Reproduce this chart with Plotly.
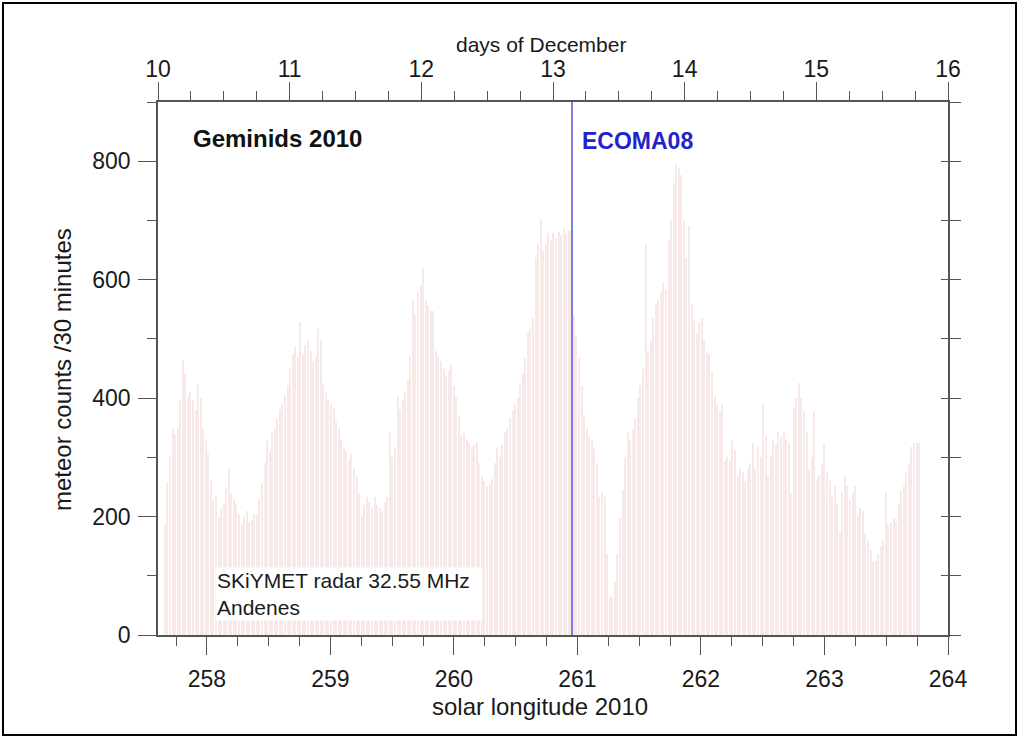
import plotly.graph_objects as go
import numpy as np

# ---- data: meteor counts per 30-minute bin ----
BIN_START = 257.66      # solar longitude of the first 30-min bin
BIN_STEP = 0.0207       # solar longitude width of one 30-min bin
counts = [
    185, 257, 300, 348, 340, 350, 396, 465, 440, 402,
    410, 396, 380, 423, 400, 348, 330, 305, 260, 227,
    235, 197, 215, 221, 250, 281, 239, 230, 221, 205,
    185, 200, 210, 191, 195, 205, 203, 230, 257, 290,
    330, 310, 341, 350, 366, 380, 390, 405, 420, 450,
    474, 486, 470, 529, 474, 490, 498, 480, 462, 470,
    517, 498, 426, 410, 396, 390, 384, 360, 348, 330,
    318, 310, 295, 305, 281, 269, 240, 203, 220, 233,
    225, 215, 233, 220, 215, 210, 225, 233, 342, 300,
    318, 402, 380, 396, 410, 432, 470, 565, 540, 577,
    590, 619, 565, 555, 547, 547, 480, 470, 462, 450,
    438, 445, 456, 420, 402, 370, 336, 340, 330, 325,
    318, 320, 324, 290, 269, 260, 251, 255, 263, 290,
    318, 300, 320, 342, 350, 366, 380, 390, 400, 426,
    440, 468, 510, 520, 535, 637, 660, 703, 649, 660,
    679, 667, 679, 670, 680, 675, 685, 679, 682, 682,
    540, 505, 468, 420, 372, 350, 336, 330, 318, 290,
    233, 240, 233, 137, 64, 64, 90, 137, 197, 245,
    300, 342, 330, 348, 366, 400, 420, 450, 661, 480,
    498, 535, 559, 565, 580, 595, 583, 667, 700, 764,
    794, 788, 776, 700, 637, 691, 559, 530, 510, 529,
    535, 498, 480, 474, 444, 402, 390, 378, 390, 293,
    300, 293, 330, 312, 269, 280, 275, 260, 281, 290,
    324, 281, 318, 300, 390, 336, 269, 300, 330, 320,
    342, 335, 342, 330, 324, 239, 384, 400, 426, 400,
    378, 342, 281, 300, 378, 263, 270, 287, 324, 275,
    260, 233, 251, 220, 173, 240, 269, 251, 227, 240,
    251, 203, 215, 209, 173, 160, 143, 125, 125, 137,
    150, 161, 239, 185, 190, 197, 191, 220, 245, 251,
    275, 290, 318, 324, 324, 324,
]
solar_longitude = BIN_START + BIN_STEP * np.arange(len(counts))

ECOMA08_LONGITUDE = 260.956
x_range = [257.604, 264.0]
day_range = [10, 16]
y_range = [0, 900]
y_ticks = [0, 200, 400, 600, 800]

# ---- layout geometry ----
W, H = 1020, 739
ML, MR, MT, MB = 158, 72, 102, 104
pw, ph = W - ML - MR, H - MT - MB

def px(xp):
    return (xp - ML) / pw

def py(yp):
    return (H - MB - yp) / ph

FONT = "Liberation Sans, Arial, sans-serif"
AX = "#555555"
TXT = "#1a1a1a"

fig = go.Figure()
fig.add_trace(go.Bar(
    x=solar_longitude, y=counts, width=BIN_STEP * 0.45,
    marker=dict(color="#f8e9e9", line=dict(width=0)),
    showlegend=False, hoverinfo="x+y",
))

common = dict(showgrid=False, zeroline=False, showline=True, linecolor=AX,
              linewidth=1.5, tickcolor=AX, tickwidth=1.2,
              tickfont=dict(family=FONT, size=23, color=TXT))

fig.update_layout(
    width=W, height=H,
    margin=dict(l=ML, r=MR, t=MT, b=MB, pad=0),
    paper_bgcolor="white", plot_bgcolor="white",
    bargap=0,
    xaxis=dict(range=x_range, tick0=258, dtick=1, ticks="outside", ticklen=18,
               ticklabelstandoff=5,
               minor=dict(dtick=0.25, tick0=258, ticks="outside", ticklen=9,
                          tickcolor=AX, tickwidth=1.2),
               **common),
    xaxis2=dict(range=day_range, overlaying="x", side="top", anchor="y",
                tick0=10, dtick=1, ticks="outside", ticklen=18,
                ticklabelstandoff=-4,
                minor=dict(dtick=0.25, tick0=10, ticks="outside", ticklen=9,
                           tickcolor=AX, tickwidth=1.2),
                **common),
    yaxis=dict(range=y_range, tickvals=y_ticks, ticks="outside", ticklen=18,
               ticklabelstandoff=3,
               minor=dict(dtick=100, tick0=0, ticks="outside", ticklen=9,
                          tickcolor=AX, tickwidth=1.2),
               **common),
    yaxis2=dict(range=y_range, overlaying="y", side="right", anchor="x",
                dtick=100, ticks="outside", ticklen=11, showticklabels=False,
                **common),
    yaxis3=dict(range=y_range, overlaying="y", side="right", anchor="x",
                dtick=100, ticks="inside", ticklen=7, showticklabels=False,
                **common),
)

# invisible helper traces so the secondary axes are drawn
fig.add_trace(go.Scatter(x=day_range, y=[0, 0], xaxis="x2", yaxis="y",
                         mode="lines", line=dict(width=0), hoverinfo="skip",
                         showlegend=False))
fig.add_trace(go.Scatter(x=x_range, y=[0, 0], xaxis="x", yaxis="y2",
                         mode="lines", line=dict(width=0), hoverinfo="skip",
                         showlegend=False))
fig.add_trace(go.Scatter(x=x_range, y=[0, 0], xaxis="x", yaxis="y3",
                         mode="lines", line=dict(width=0), hoverinfo="skip",
                         showlegend=False))

# ECOMA08 launch marker
fig.add_shape(type="line", xref="x", yref="y", x0=ECOMA08_LONGITUDE,
              x1=ECOMA08_LONGITUDE, y0=y_range[0], y1=y_range[1],
              line=dict(color="#3b3bd6", width=1.3), layer="above")

# outer frame
fig.add_shape(type="rect", xref="paper", yref="paper",
              x0=px(3), x1=px(1016), y0=py(735), y1=py(3),
              line=dict(color="black", width=2), fillcolor="rgba(0,0,0,0)")

fig.add_annotation(text="days of December", x=px(541), y=py(44),
                   xref="paper", yref="paper", showarrow=False,
                   xanchor="center", yanchor="middle",
                   font=dict(family=FONT, size=21, color=TXT))
fig.add_annotation(text="solar longitude 2010", x=px(540), y=py(706),
                   xref="paper", yref="paper", showarrow=False,
                   xanchor="center", yanchor="middle",
                   font=dict(family=FONT, size=24, color=TXT))
fig.add_annotation(text="meteor counts /30 minutes", x=px(62), y=py(370),
                   xref="paper", yref="paper", showarrow=False, textangle=-90,
                   xanchor="center", yanchor="middle",
                   font=dict(family=FONT, size=24, color=TXT))

fig.add_annotation(text="<b>Geminids 2010</b>", x=px(191), y=py(138),
                   xref="paper", yref="paper", showarrow=False,
                   xanchor="left", yanchor="middle",
                   font=dict(family=FONT, size=24, color="#111111"))
fig.add_annotation(text="<b>ECOMA08</b>", x=px(580), y=py(141),
                   xref="paper", yref="paper", showarrow=False,
                   xanchor="left", yanchor="middle",
                   font=dict(family=FONT, size=23, color="#2222cc"))
fig.add_annotation(text="SKiYMET radar 32.55 MHz<br>Andenes",
                   x=px(215), y=py(567), xref="paper", yref="paper",
                   showarrow=False, xanchor="left", yanchor="top",
                   align="left", bgcolor="white", borderpad=1, width=264,
                   font=dict(family=FONT, size=21, color=TXT))

fig.write_html("out.html")
